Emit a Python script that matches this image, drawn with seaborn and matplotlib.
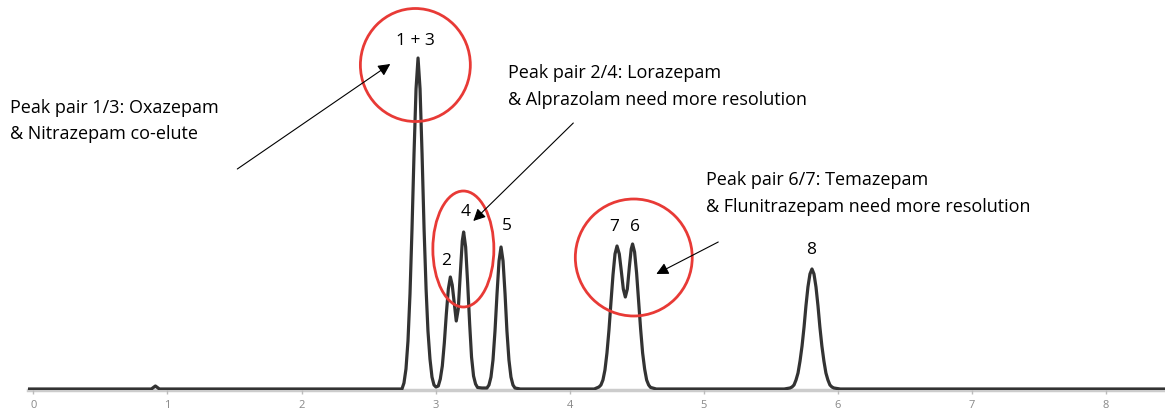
import numpy as np
import pandas as pd
import matplotlib
matplotlib.use("Agg")
import matplotlib.pyplot as plt
import seaborn as sns
from matplotlib.patches import Ellipse

# retention time (min) and detector signal
time_min = [
    -0.04, 0.88, 0.91, 0.94, 2.70,
    2.749, 2.764, 2.779, 2.794, 2.809, 2.824, 2.839, 2.854, 2.869,
    2.884, 2.899, 2.914, 2.929, 2.943, 2.958, 2.973, 2.988, 3.003,
    3.020, 3.035, 3.050, 3.065, 3.080, 3.095, 3.110, 3.124, 3.139, 3.154,
    3.169, 3.184, 3.199, 3.209, 3.224, 3.239, 3.254, 3.268, 3.283, 3.298,
    3.313, 3.346,
    3.383, 3.398, 3.413, 3.428, 3.443, 3.458, 3.473, 3.488, 3.503, 3.518,
    3.532, 3.547, 3.562, 3.577, 3.592, 3.632,
    4.183, 4.218, 4.233, 4.248, 4.263, 4.278, 4.293, 4.308, 4.323, 4.338,
    4.353, 4.370, 4.385, 4.400, 4.415, 4.430, 4.445, 4.459, 4.469, 4.484,
    4.499, 4.514, 4.529, 4.544, 4.559, 4.574, 4.589, 4.603, 4.646,
    5.600, 5.643, 5.658, 5.673, 5.688, 5.703, 5.718, 5.733, 5.748, 5.762,
    5.777, 5.792, 5.807, 5.822, 5.837, 5.852, 5.866, 5.881, 5.896, 5.911,
    5.926, 5.941, 5.956, 5.971, 6.018,
    8.44,
]
signal = [
    0, 0, 3, 0, 0,
    0, 6, 20, 48, 95, 160, 235, 300, 331,
    300, 235, 160, 100, 58, 30, 12, 4, 2,
    3, 10, 23, 46, 75, 100, 112, 104, 86, 68,
    80, 115, 148, 157, 142, 106, 65, 32, 13, 5,
    1.5, 1,
    1, 4, 12, 29, 58, 95, 128, 142, 128, 95,
    58, 29, 12, 4, 1, 0,
    0, 2, 4, 9, 19, 36, 59, 87, 114, 135,
    143, 135, 118, 100, 92, 100, 122, 140, 145, 137,
    116, 88, 60, 36, 20, 9, 4, 1.6, 0,
    0, 1, 2, 4, 9, 16, 28, 43, 62, 83,
    102, 115, 120, 115, 102, 83, 62, 43, 28, 16,
    9, 4, 2, 1, 0,
    0,
]

x_ticks = [0, 1, 2, 3, 4, 5, 6, 7, 8]

# peak labels: text, time, signal
peak_text = ["1 + 3", "2", "4", "5", "7", "6", "8"]
peak_time = [2.849, 3.080, 3.221, 3.535, 4.333, 4.489, 5.802]
peak_sig = [348, 128, 177, 163, 162, 162, 139]

df = pd.DataFrame({"time": time_min, "signal": signal})

sns.set_style("white")
plt.rcParams["font.family"] = ["Open Sans", "DejaVu Sans"]

fig = plt.figure(figsize=(11.65, 4.11), dpi=100)
ax = fig.add_axes([28 / 1165, 21 / 411, 1 - 28 / 1165, 390 / 411])

sns.lineplot(data=df, x="time", y="signal", ax=ax, color="#333333",
             linewidth=2.3, estimator=None, sort=False)

ax.set_xlim(-0.04, 8.44)
ax.set_ylim(-1, 389)
ax.set_xticks(x_ticks)
ax.set_xticklabels([str(t) for t in x_ticks])
ax.set_yticks([])
ax.set_xlabel("")
ax.set_ylabel("")
for side in ["top", "right", "left"]:
    ax.spines[side].set_visible(False)
ax.spines["bottom"].set_color("#cccccc")
ax.spines["bottom"].set_linewidth(2.5)
ax.spines["bottom"].set_zorder(0)
ax.tick_params(axis="x", colors="#bbbbbb", length=3, width=1, pad=4,
               labelsize=8, labelcolor="#888888", bottom=True)

for txt, t, s in zip(peak_text, peak_time, peak_sig):
    ax.text(t, s, txt, ha="center", va="center", fontsize=12.5, color="black")

# red circles around the problem peaks
red = "#e83a36"
for (cx, cy, w, h) in [(2.849, 324, 0.820, 113), (3.207, 140, 0.455, 116),
                       (4.478, 131.5, 0.872, 117)]:
    ax.add_patch(Ellipse((cx, cy), w, h, fill=False, edgecolor=red,
                         linewidth=2, zorder=3))

notes = [
    ("Peak pair 1/3: Oxazepam\n& Nitrazepam co-elute", -0.172, 268),
    ("Peak pair 2/4: Lorazepam\n& Alprazolam need more resolution", 3.542, 302.5),
    ("Peak pair 6/7: Temazepam\n& Flunitrazepam need more resolution", 5.019, 195.5),
]
for txt, t, s in notes:
    ax.text(t, s, txt, ha="left", va="center", fontsize=13, color="black",
            linespacing=1.6, clip_on=False)

arrows = [((1.521, 220), (2.662, 325)), ((4.027, 266), (3.281, 168)),
          ((5.108, 147), (4.646, 115))]
for tail, head in arrows:
    ax.annotate("", xy=head, xytext=tail,
                arrowprops=dict(arrowstyle="-|>", color="black", lw=0.8,
                                mutation_scale=18, shrinkA=0, shrinkB=0))

fig.savefig("out.png", dpi=100)
